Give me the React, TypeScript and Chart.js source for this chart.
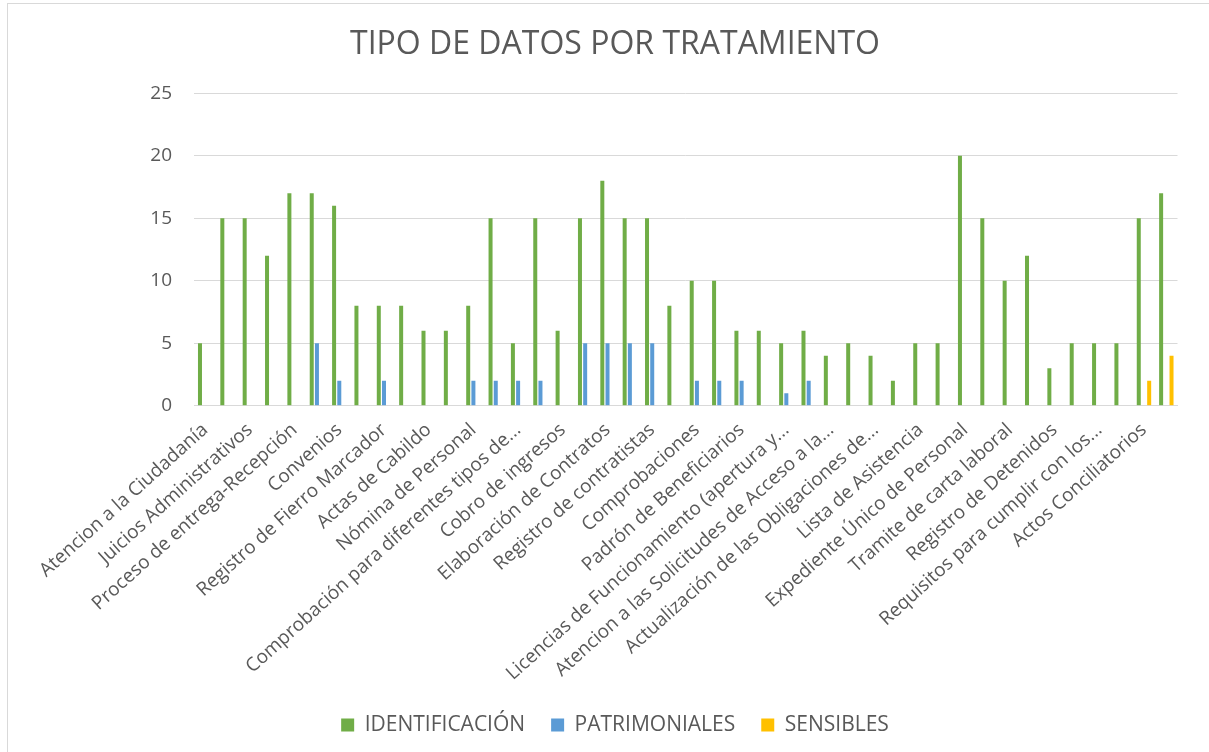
import React, { useEffect, useRef } from "react";
import { Chart, registerables } from "chart.js";

Chart.register(...registerables);

const chartTitle = "TIPO DE DATOS POR TRATAMIENTO";

// Only every other category name is printed on the axis of the original chart.
const shownLabels = [
  "Atencion a la Ciudadanía",
  "Juicios Administrativos",
  "Proceso de entrega-Recepción",
  "Convenios",
  "Registro de Fierro Marcador",
  "Actas de Cabildo",
  "Nómina de Personal",
  "Comprobación para diferentes tipos de...",
  "Cobro de ingresos",
  "Elaboración de Contratos",
  "Registro de contratistas",
  "Comprobaciones",
  "Padrón de Beneficiarios",
  "Licencias de Funcionamiento (apertura y...",
  "Atencion a las Solicitudes de Acceso a la...",
  "Actualización de las Obligaciones de...",
  "Lista de Asistencia",
  "Expediente Único de Personal",
  "Tramite de carta laboral",
  "Registro de Detenidos",
  "Requisitos para cumplir con los...",
  "Actos Conciliatorios",
];

const identificacion = [
  5, 15, 15, 12, 17, 17, 16, 8, 8, 8, 6, 6, 8, 15, 5, 15, 6, 15, 18, 15, 15, 8,
  10, 10, 6, 6, 5, 6, 4, 5, 4, 2, 5, 5, 20, 15, 10, 12, 3, 5, 5, 5, 15, 17,
];
const patrimoniales = [
  0, 0, 0, 0, 0, 5, 2, 0, 2, 0, 0, 0, 2, 2, 2, 2, 0, 5, 5, 5, 5, 0,
  2, 2, 2, 0, 1, 2, 0, 0, 0, 0, 0, 0, 0, 0, 0, 0, 0, 0, 0, 0, 0, 0,
];
const sensibles = [
  0, 0, 0, 0, 0, 0, 0, 0, 0, 0, 0, 0, 0, 0, 0, 0, 0, 0, 0, 0, 0, 0,
  0, 0, 0, 0, 0, 0, 0, 0, 0, 0, 0, 0, 0, 0, 0, 0, 0, 0, 0, 0, 2, 4,
];
const seriesNames = ["IDENTIFICACIÓN", "PATRIMONIALES", "SENSIBLES"];
const yTicks = [0, 5, 10, 15, 20, 25];

const categories = identificacion.map((_, i) =>
  i % 2 === 0 ? shownLabels[i / 2] : ""
);

const TEXT = "#595959";
const GRID = "#d9d9d9";
const FONT = "'Open Sans', 'Noto Sans', sans-serif";

export default function App() {
  const ref = useRef<HTMLCanvasElement | null>(null);

  useEffect(() => {
    if (!ref.current) return;
    const chart = new Chart(ref.current, {
      type: "bar",
      data: {
        labels: categories,
        datasets: [
          { label: seriesNames[0], data: identificacion, backgroundColor: "#70AD47" },
          { label: seriesNames[1], data: patrimoniales, backgroundColor: "#5B9BD5" },
          { label: seriesNames[2], data: sensibles, backgroundColor: "#FFC000" },
        ],
      },
      options: {
        responsive: false,
        animation: false,
        devicePixelRatio: 1,
        layout: { padding: { left: 21, right: 0, top: 0, bottom: 6.5 } },
        datasets: {
          bar: { categoryPercentage: 0.698, barPercentage: 0.77 },
        },
        plugins: {
          tooltip: { enabled: false },
          title: {
            display: true,
            text: chartTitle,
            color: TEXT,
            font: { family: FONT, size: 32, weight: "normal", lineHeight: 1.2 },
            padding: { top: 25.8, bottom: 29.1 },
          },
          legend: {
            position: "bottom",
            labels: {
              color: TEXT,
              font: { family: FONT, size: 21 },
              boxWidth: 13,
              boxHeight: 13,
              padding: 26,
            },
          },
        },
        scales: {
          x: {
            grid: { display: false },
            border: { display: true, color: GRID, width: 1 },
            ticks: {
              autoSkip: false,
              minRotation: 42,
              maxRotation: 42,
              color: TEXT,
              padding: 5,
              font: { family: FONT, size: 19 },
              callback: (_v: any, i: number) => categories[i],
            },
            afterFit: (s: any) => {
              s.height = 282.8;
            },
          },
          y: {
            min: 0,
            max: 25,
            afterBuildTicks: (s: any) => {
              s.ticks = yTicks.map((v) => ({ value: v }));
            },
            grid: { color: GRID, lineWidth: 1, drawTicks: false },
            border: { display: false },
            ticks: {
              color: TEXT,
              padding: 22,
              font: { family: FONT, size: 19 },
            },
            afterFit: (s: any) => {
              s.width = 173;
            },
          },
          yRightSpace: {
            position: "right",
            display: true,
            grid: { display: false, drawTicks: false },
            border: { display: false },
            ticks: { display: false },
            afterFit: (s: any) => {
              s.width = 31.5;
            },
          },
        },
      },
    });
    return () => chart.destroy();
  }, []);

  return (
    <div
      style={{
        position: "fixed",
        left: 0,
        top: 0,
        width: 1209,
        height: 752,
        overflow: "hidden",
        background: "#fff",
      }}
    >
      <div
        style={{
          position: "absolute",
          left: 7,
          top: 3,
          width: 1300,
          height: 900,
          border: "1px solid #d9d9d9",
        }}
      />
      <canvas
        ref={ref}
        width={1209}
        height={752}
        style={{ position: "absolute", left: 0, top: 0, width: 1209, height: 752 }}
      />
    </div>
  );
}
